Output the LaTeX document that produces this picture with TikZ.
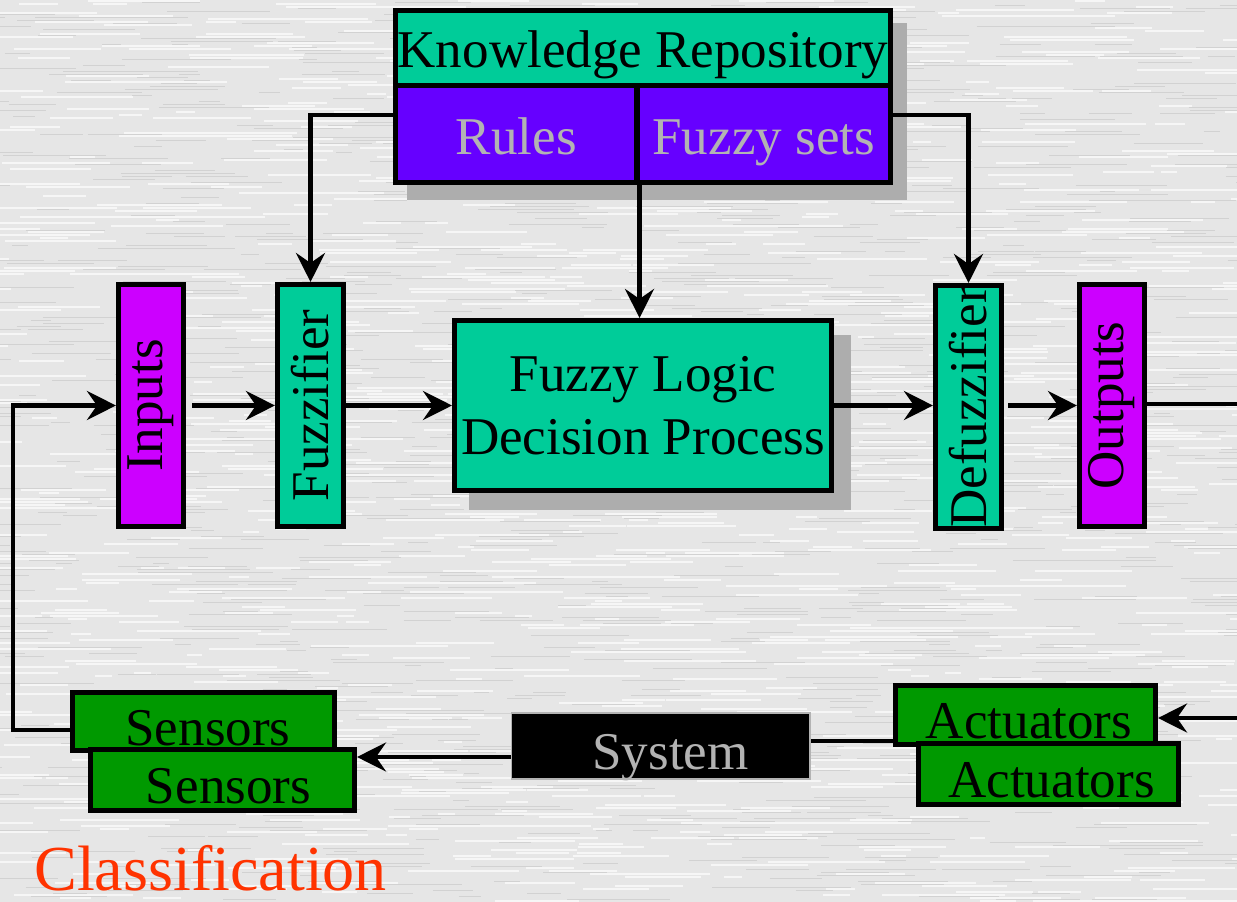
\documentclass[tikz,border=0pt]{standalone}
\usepackage{fontspec}
\setmainfont{Liberation Serif}
\usetikzlibrary{arrows.meta,backgrounds}
\definecolor{kgreen}{HTML}{00CC99}
\definecolor{kviolet}{HTML}{6600FF}
\definecolor{kpurple}{HTML}{CC00FF}
\definecolor{kgreenb}{HTML}{009900}
\definecolor{kgray}{HTML}{B3B3B3}
\definecolor{kred}{HTML}{FF3300}
\definecolor{kbg}{HTML}{E6E6E6}
\definecolor{kstreakw}{HTML}{F6F6F6}
\definecolor{kstreakd}{HTML}{D2D2D2}
\definecolor{kshadow}{HTML}{ADADAD}
\begin{document}
\begin{tikzpicture}[x=0.02cm,y=-0.02cm,
  box/.style={draw=black, line width=2.9pt, inner sep=0pt, font=\fontsize{30.2}{36}\selectfont},
  lowbox/.style={box, fill=kgreenb, text height=0.94cm, text depth=0pt},
  conn/.style={line width=2.5pt},
  arr/.style={conn, -{Stealth[length=0.58cm,width=0.58cm,inset=0.2cm]}}]
\useasboundingbox (0,0) rectangle (1237,902);

% top group
\node[box, fill=kgreen, minimum width=9.9cm, minimum height=1.5cm, text height=0.8cm, text depth=0pt] (kr) at (643,48) {Knowledge Repository};
\node[box, fill=kviolet, text=kgray, minimum width=4.83cm, minimum height=1.94cm, text height=0.84cm, text depth=0pt] (rules) at (516.25,134) {Rules};
\node[box, fill=kviolet, text=kgray, minimum width=5.07cm, minimum height=1.94cm, text height=0.84cm, text depth=0pt] (fsets) at (763.75,134) {Fuzzy sets};

% middle row
\node[box, fill=kpurple, minimum width=1.3cm, minimum height=4.84cm] (inputs) at (151,405.5) {\rotatebox{90}{Inputs}};
\node[box, fill=kgreen, minimum width=1.32cm, minimum height=4.84cm] (fuzz) at (310.5,405.5) {\rotatebox{90}{Fuzzifier}};
\node[box, fill=kgreen, minimum width=7.54cm, minimum height=3.4cm, align=center] (fldp) at (643,405.5) {Fuzzy Logic\\Decision Process};
\node[box, fill=kgreen, minimum width=1.32cm, minimum height=4.86cm] (defuzz) at (968.5,407) {\rotatebox{90}{Defuzzifier}};
\node[box, fill=kpurple, minimum width=1.3cm, minimum height=4.84cm] (outputs) at (1112,405.5) {\rotatebox{90}{Outputs}};

% bottom row
\node[lowbox, minimum width=5.24cm, minimum height=1.16cm] (sens1) at (203.5,721.5) {\hspace*{0.18cm}Sensors};
\node[lowbox, minimum width=5.28cm, minimum height=1.22cm] (sens2) at (222.5,780) {\hspace*{0.24cm}Sensors};
\node[fill=black, draw=kgray, line width=0.6pt, inner sep=0pt, text=kgray, font=\fontsize{30.2}{36}\selectfont,
      text height=0.94cm, text depth=0pt, minimum width=5.98cm, minimum height=1.32cm] (system) at (660.5,746) {\hspace*{0.4cm}System};
\node[lowbox, minimum width=5.2cm, minimum height=1.18cm] (act1) at (1025.5,715) {\hspace*{0.14cm}Actuators};
\node[lowbox, minimum width=5.2cm, minimum height=1.22cm] (act2) at (1048.5,774) {\hspace*{0.12cm}Actuators};

\node[anchor=base west, inner sep=0pt, text=kred, font=\fontsize{36.5}{44}\selectfont] (cls) at (34,890) {Classification};

% helper coordinates
\coordinate (kl) at (314,115);
\coordinate (kright) at (966,115);
\coordinate (outR) at (1237,404);
\coordinate (fbB) at (13,730);
\coordinate (sysL) at (511,757);
\coordinate (sysR) at (810,741);
\coordinate (inR) at (1237,718);

\begin{scope}[on background layer]
  \fill[kbg] (0,0) rectangle (1237,902);
  \pgfmathsetseed{7}
  \foreach \yy in {1,4,...,901}{
    \foreach \k in {1,...,4}{
      \pgfmathsetmacro{\xa}{rnd*1300-60}
      \pgfmathsetmacro{\ln}{15+rnd*110}
      \draw[kstreakw, line width=0.03cm] (\xa,\yy) -- ++(\ln,0);
      \pgfmathsetmacro{\xb}{rnd*1300-60}
      \pgfmathsetmacro{\lm}{15+rnd*90}
      \draw[kstreakd, line width=0.03cm] (\xb,\yy+1.5) -- ++(\lm,0);
    }
  }
  \fill[kshadow] ([shift={(14,15)}]kr.north west) rectangle ([shift={(14,15)}]fsets.south east);
  \fill[kshadow] ([shift={(17,17)}]fldp.north west) rectangle ([shift={(17,17)}]fldp.south east);
  % connectors under the boxes
  \draw[arr] (rules.west |- kl) -| (fuzz.north);
  \draw[arr] (fsets.east |- kright) -| (defuzz.north);
  \draw[arr] (rules.south east) -- (rules.south east |- fldp.north);
  \draw[conn] ([xshift=-0.12cm]outputs.east |- outR) -- (outR);
  \draw[arr] (sens1.west |- fbB) -- (fbB) |- (inputs.west);
  \draw[conn] (system.east |- sysR) -- (act1.west |- sysR);
\end{scope}

\draw[arr, shorten <=0.12cm] (inputs.east) -- (fuzz.west);
\draw[arr] (fuzz.east) -- (fldp.west);
\draw[arr] (fldp.east) -- (fldp.east -| defuzz.west);
\draw[arr, shorten <=0.08cm] (defuzz.east |- outputs.west) -- (outputs.west);
\draw[arr] (system.west |- sysL) -- (sens2.east |- sysL);
\draw[arr] (inR) -- (act1.east |- inR);
\end{tikzpicture}
\end{document}
